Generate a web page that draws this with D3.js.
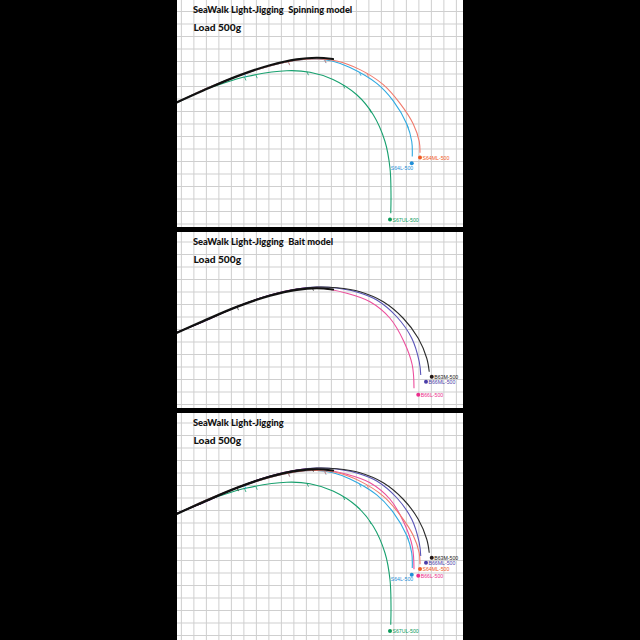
<!DOCTYPE html>
<html><head><meta charset="utf-8">
<script src="https://cdn.jsdelivr.net/npm/d3@7"></script>
<style>html,body{margin:0;padding:0;background:#000}svg{display:block}text{white-space:pre}</style>
</head><body>
<svg id="chart" width="640" height="640"></svg>
<script>
// ---- data (units: grid cell = 10) ----
const panelTitles = ["SeaWalk Light-Jigging  Spinning model", "SeaWalk Light-Jigging  Bait model", "SeaWalk Light-Jigging"];
const loadLabel = "Load 500g";
const seriesNames = ["S64ML-500", "S64L-500", "S67UL-500", "B63M-500", "B66ML-500", "B66L-500"];

const s64mlX = [0, 21, 47.8, 74.4, 95.8, 111.8, 127.8, 146.4, 165, 178.4, 189, 193.8, 194.4];
const s64mlY = [81, 70.6, 60, 51.5, 47, 46, 47.6, 54.5, 66.5, 81.5, 98, 112, 121];
const s64lX  = [0, 21, 47.8, 74.4, 95.8, 111.8, 124.8, 138.4, 159.8, 173, 183.8, 187.8, 188.2];
const s64lY  = [81, 70.6, 60, 51.5, 47, 46, 47.8, 52.8, 65.5, 79.5, 98, 112, 124];
const s67ulX = [0, 20.8, 34.4, 55.8, 87.8, 106.4, 124.8, 143.8, 157, 166.4, 170.4, 171.2, 171];
const s67ulY = [81, 71, 66.2, 60, 55.4, 56.6, 62.4, 74.6, 90.6, 112, 133.4, 154.4, 169.4];
const b63mX  = [0, 21, 47.8, 74.4, 95.8, 111.8, 127.8, 146.4, 165, 181, 193, 199.8, 201.8];
const b63mY  = [80.2, 71.8, 59.8, 50.4, 45.6, 44, 44.6, 47.8, 55.8, 69, 85, 101, 111.8];
const b66mlX = [0, 21, 47.8, 74.4, 95.8, 111.8, 127.8, 146.4, 159.8, 175.8, 187.8, 193.8, 195];
const b66mlY = [80.2, 71.8, 59.8, 50.4, 45.6, 44, 44.8, 48.8, 54.4, 67.8, 85, 103.8, 114.4];
const b66lX  = [0, 21, 47.8, 74.4, 95.8, 111.8, 135.8, 154.4, 170.4, 181.6, 188.2, 189.6];
const b66lY  = [80.2, 71.8, 59.8, 50.4, 45.6, 44.6, 49, 55.8, 69, 87.8, 106.4, 125];
// rod butt (thick black common part)
const buttX = [0, 21, 47.8, 74.4, 95.8, 111.8, 124.8];
const buttY = [80.6, 71.2, 59.9, 51, 46.3, 45, 46];
// tip marker positions
const tipX = [194.4, 187.8, 170.4, 203.8, 199.2, 193];
const tipY = [124.8, 129.4, 174.4, 115.8, 119.8, 130.2];
// rod guide marks (x along curve, per series)
const guideS64ML = [89, 118, 152];
const guideS64L  = [54, 89, 118, 146, 184];
const guideS67UL = [54, 63, 104, 133, 154];
const guideB63M  = [48, 108];

// ---- styling / layout ----
const lineColors  = ["#f07a6c", "#2fa9e0", "#17a06e", "#2a2a2a", "#5a55b8", "#ec4e9c"];
const labelColors = ["#f05a24", "#1f8fd8", "#0a9a5a", "#231815", "#4a3ea8", "#ec2d8c"];
const seriesX = [s64mlX, s64lX, s67ulX, b63mX, b66mlX, b66lX];
const seriesY = [s64mlY, s64lY, s67ulY, b63mY, b66mlY, b66lY];
const seriesGuides = [guideS64ML, guideS64L, guideS67UL, guideB63M, [], []];

const panels = [
  {top: 0,   height: 227, series: [2, 1, 0], dy: 1.5},
  {top: 232, height: 176, series: [5, 4, 3], dy: 0},
  {top: 413, height: 227, series: [2, 1, 5, 0, 4, 3], dy: 0}
];
const panelLeft = 177, panelRight = 463;

const svg = d3.select("#chart");
svg.append("rect").attr("width", 640).attr("height", 640).attr("fill", "#000");

const x = d3.scaleLinear().domain([0, 230]).range([panelLeft, panelLeft + 287.5]);

panels.forEach((p, pi) => {
  const g = svg.append("g");
  const clipId = "clip" + pi;
  g.append("clipPath").attr("id", clipId).append("rect")
    .attr("x", panelLeft).attr("y", p.top).attr("width", panelRight - panelLeft).attr("height", p.height);
  const y = d3.scaleLinear().domain([0, 180]).range([p.top + p.dy, p.top + p.dy + 225]);
  const body = g.append("g").attr("clip-path", `url(#${clipId})`);
  body.append("rect").attr("x", panelLeft).attr("y", p.top)
    .attr("width", panelRight - panelLeft).attr("height", p.height).attr("fill", "#fff");

  // grid
  const gx = d3.range(-20, 240, 10).map(v => v + 3.5);
  const gy = d3.range(-10, 200, 10).map(v => v - 2);
  body.selectAll(".vg").data(gx).join("line")
    .attr("x1", d => x(d)).attr("x2", d => x(d)).attr("y1", p.top).attr("y2", p.top + p.height)
    .attr("stroke", "#cfcfcf").attr("stroke-width", 1);
  body.selectAll(".hg").data(gy).join("line")
    .attr("y1", d => y(d)).attr("y2", d => y(d)).attr("x1", panelLeft).attr("x2", panelRight)
    .attr("stroke", "#cfcfcf").attr("stroke-width", 1);

  const line = d3.line().x(d => x(d[0])).y(d => y(d[1])).curve(d3.curveCatmullRom.alpha(0.5));

  p.series.forEach(si => {
    const pts = seriesX[si].map((v, i) => [v, seriesY[si][i]]);
    const path = body.append("path").attr("d", line(pts)).attr("fill", "none")
      .attr("stroke", lineColors[si]).attr("stroke-width", 1.1);
    // guide marks: small ticks perpendicular-ish near the curve
    const node = path.node();
    const L = node.getTotalLength();
    seriesGuides[si].forEach(gxv => {
      // find point on path with x nearest to scale value
      const tx = x(gxv);
      let lo = 0, hi = L;
      for (let k = 0; k < 30; k++) {
        const mid = (lo + hi) / 2;
        if (node.getPointAtLength(mid).x < tx) lo = mid; else hi = mid;
      }
      const pt = node.getPointAtLength(lo);
      body.append("line").attr("x1", pt.x).attr("y1", pt.y).attr("x2", pt.x + 1.5).attr("y2", pt.y + 3.5)
        .attr("stroke", lineColors[si]).attr("stroke-width", 0.8);
    });
  });
  // butt
  const buttPts = buttX.map((v, i) => [v, buttY[i]]);
  body.append("path").attr("d", line(buttPts)).attr("fill", "none")
    .attr("stroke", "#111").attr("stroke-width", 2.2).attr("stroke-linecap", "round");

  // tip markers + labels
  p.series.forEach(si => {
    const cx = x(tipX[si]), cy = y(tipY[si]);
    body.append("circle").attr("cx", cx).attr("cy", cy).attr("r", 2).attr("fill", labelColors[si]);
    const left = si === 1;
    body.append("text").text(seriesNames[si])
      .attr("x", left ? cx + 1.5 : cx + 2.5).attr("y", left ? cy + 6.5 : cy + 2)
      .attr("text-anchor", left ? "end" : "start")
      .attr("font-family", "Liberation Sans, Arial, sans-serif").attr("font-size", 5.2)
      .attr("fill", labelColors[si]);
  });

  // titles
  body.append("text").text(panelTitles[pi]).attr("x", 193).attr("y", p.top + 12.5)
    .attr("xml:space", "preserve")
    .attr("font-family", "Lato, sans-serif").attr("font-weight", 900).attr("font-size", 9.3)
    .attr("fill", "#111");
  body.append("text").text(loadLabel).attr("x", 193.5).attr("y", p.top + 30.5)
    .attr("font-family", "Lato, sans-serif").attr("font-weight", 900).attr("font-size", 10.2)
    .attr("fill", "#111");
});
</script>
</body></html>
